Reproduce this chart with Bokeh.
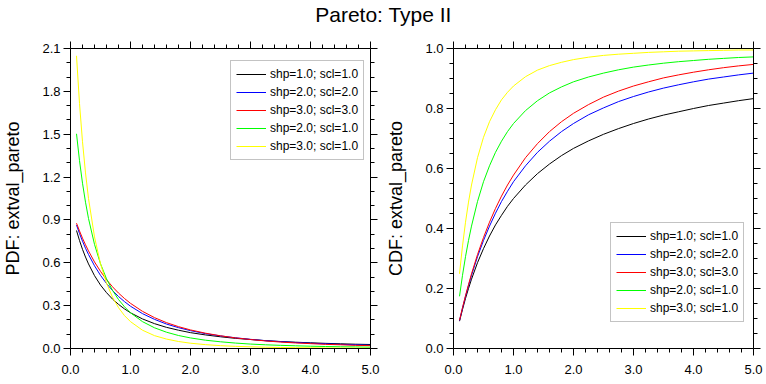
from bokeh.plotting import figure
from bokeh.models import (Range1d, LinearAxis, FixedTicker, Legend, LegendItem,
                          NumeralTickFormatter, CustomLabelingPolicy)
from bokeh.layouts import column, row
from bokeh.embed import file_html
from bokeh.resources import INLINE

FONT = "Liberation Sans"

# ---------------- data ----------------
x = [0.1, 0.15, 0.2, 0.25, 0.3, 0.4, 0.5, 0.6, 0.7, 0.8, 0.9, 1.0, 1.2, 1.4, 1.6,
     1.8, 2.0, 2.25, 2.5, 2.75, 3.0, 3.25, 3.5, 3.75, 4.0, 4.25, 4.5, 4.75, 5.0]

labels = ["shp=1.0; scl=1.0", "shp=2.0; scl=2.0", "shp=3.0; scl=3.0",
          "shp=2.0; scl=1.0", "shp=3.0; scl=1.0"]
colors = ["black", "blue", "red", "#00ff00", "#ffff00"]

pdf_s1_c1 = [0.826, 0.756, 0.694, 0.640, 0.592, 0.510, 0.444, 0.391, 0.346, 0.309,
             0.277, 0.250, 0.207, 0.174, 0.148, 0.128, 0.111, 0.095, 0.082, 0.071,
             0.063, 0.055, 0.049, 0.044, 0.040, 0.036, 0.033, 0.030, 0.028]
pdf_s2_c2 = [0.864, 0.805, 0.751, 0.702, 0.658, 0.579, 0.512, 0.455, 0.406, 0.364,
             0.328, 0.296, 0.244, 0.204, 0.171, 0.146, 0.125, 0.104, 0.088, 0.075,
             0.064, 0.055, 0.048, 0.042, 0.037, 0.033, 0.029, 0.026, 0.023]
pdf_s3_c3 = [0.877, 0.823, 0.772, 0.726, 0.683, 0.606, 0.540, 0.482, 0.432, 0.388,
             0.350, 0.316, 0.260, 0.216, 0.181, 0.153, 0.130, 0.107, 0.089, 0.074,
             0.063, 0.053, 0.045, 0.039, 0.034, 0.029, 0.026, 0.022, 0.020]
pdf_s2_c1 = [1.503, 1.315, 1.157, 1.024, 0.910, 0.729, 0.593, 0.488, 0.407, 0.343,
             0.292, 0.250, 0.188, 0.145, 0.114, 0.091, 0.074, 0.058, 0.047, 0.038,
             0.031, 0.026, 0.022, 0.019, 0.016, 0.014, 0.012, 0.011, 0.009]
pdf_s3_c1 = [2.049, 1.715, 1.447, 1.229, 1.050, 0.781, 0.593, 0.458, 0.359, 0.286,
             0.230, 0.188, 0.128, 0.090, 0.066, 0.049, 0.037, 0.027, 0.020, 0.015,
             0.012, 0.009, 0.007, 0.006, 0.005, 0.004, 0.003, 0.003, 0.002]

cdf_s1_c1 = [0.091, 0.130, 0.167, 0.200, 0.231, 0.286, 0.333, 0.375, 0.412, 0.444,
             0.474, 0.500, 0.545, 0.583, 0.615, 0.643, 0.667, 0.692, 0.714, 0.733,
             0.750, 0.765, 0.778, 0.789, 0.800, 0.810, 0.818, 0.826, 0.833]
cdf_s2_c2 = [0.093, 0.135, 0.174, 0.210, 0.244, 0.306, 0.360, 0.408, 0.451, 0.490,
             0.524, 0.556, 0.609, 0.654, 0.691, 0.723, 0.750, 0.779, 0.802, 0.823,
             0.840, 0.855, 0.868, 0.879, 0.889, 0.898, 0.905, 0.912, 0.918]
cdf_s3_c3 = [0.094, 0.136, 0.176, 0.213, 0.249, 0.313, 0.370, 0.421, 0.467, 0.508,
             0.545, 0.578, 0.636, 0.683, 0.723, 0.756, 0.784, 0.813, 0.838, 0.858,
             0.875, 0.889, 0.902, 0.912, 0.921, 0.929, 0.936, 0.942, 0.947]
cdf_s2_c1 = [0.174, 0.244, 0.306, 0.360, 0.408, 0.490, 0.556, 0.609, 0.654, 0.691,
             0.723, 0.750, 0.793, 0.826, 0.852, 0.872, 0.889, 0.905, 0.918, 0.929,
             0.938, 0.945, 0.951, 0.956, 0.960, 0.964, 0.967, 0.970, 0.972]
cdf_s3_c1 = [0.249, 0.342, 0.421, 0.488, 0.545, 0.636, 0.704, 0.756, 0.796, 0.829,
             0.854, 0.875, 0.906, 0.928, 0.943, 0.954, 0.963, 0.971, 0.977, 0.981,
             0.984, 0.987, 0.989, 0.991, 0.992, 0.993, 0.994, 0.995, 0.995]

x_major = [0, 1, 2, 3, 4, 5]
x_minor = [0.2, 0.4, 0.6, 0.8, 1.2, 1.4, 1.6, 1.8, 2.2, 2.4, 2.6, 2.8,
           3.2, 3.4, 3.6, 3.8, 4.2, 4.4, 4.6, 4.8]
pdf_major = [0, 0.3, 0.6, 0.9, 1.2, 1.5, 1.8, 2.1]
pdf_minor = [0.1, 0.2, 0.4, 0.5, 0.7, 0.8, 1.0, 1.1, 1.3, 1.4, 1.6, 1.7, 1.9, 2.0]
cdf_major = [0, 0.2, 0.4, 0.6, 0.8, 1.0]
cdf_minor = [0.05, 0.1, 0.15, 0.25, 0.3, 0.35, 0.45, 0.5, 0.55, 0.65, 0.7, 0.75,
             0.85, 0.9, 0.95]

pdf_series = [pdf_s1_c1, pdf_s2_c2, pdf_s3_c3, pdf_s2_c1, pdf_s3_c1]
cdf_series = [cdf_s1_c1, cdf_s2_c2, cdf_s3_c3, cdf_s2_c1, cdf_s3_c1]


def make_panel(series, ymax, ymaj, ymin, ylabel, leg_loc, bl, br):
    p = figure(frame_width=300, frame_height=300,
               x_range=Range1d(0, 5), y_range=Range1d(0, ymax),
               toolbar_location=None, output_backend="svg",
               x_axis_location=None, y_axis_location=None,
               min_border_left=bl, min_border_right=br,
               min_border_top=13, min_border_bottom=35)
    p.outline_line_color = None
    p.grid.visible = False

    for side in ["below", "above", "left", "right"]:
        if side in ("below", "above"):
            ax = LinearAxis(ticker=FixedTicker(ticks=x_major, minor_ticks=x_minor))
        else:
            ax = LinearAxis(ticker=FixedTicker(ticks=ymaj, minor_ticks=ymin))
        ax.formatter = NumeralTickFormatter(format="0.0")
        ax.axis_line_color = "black"
        ax.axis_line_width = 1
        ax.major_tick_line_color = "black"
        ax.minor_tick_line_color = "black"
        ax.major_tick_out = 7
        ax.major_tick_in = 0
        ax.minor_tick_out = 4
        ax.minor_tick_in = 0
        ax.major_label_text_font = FONT
        ax.major_label_text_font_size = "13px"
        ax.major_label_text_color = "black"
        if side in ("above", "right"):
            # mirrored axes: tick marks only, no labels
            ax.major_label_policy = CustomLabelingPolicy(code="return []")
            ax.major_label_text_font_size = "1px"
            ax.major_label_standoff = 0
        elif side == "below":
            ax.major_label_standoff = 9
        else:
            ax.major_label_standoff = 3
            ax.axis_label = ylabel
            ax.axis_label_text_font = FONT
            ax.axis_label_text_font_size = "18px"
            ax.axis_label_text_font_style = "normal"
            ax.axis_label_text_color = "black"
            ax.axis_label_standoff = 16
        p.add_layout(ax, side)

    rs = []
    for ys, c in zip(series, colors):
        rs.append(p.line(x, ys, line_color=c, line_width=1))

    items = [LegendItem(label=lab, renderers=[r]) for lab, r in zip(labels, rs)]
    leg = Legend(items=items, location=leg_loc,
                 label_text_font=FONT, label_text_font_size="12px",
                 label_text_color="black",
                 glyph_width=30, glyph_height=16, label_height=16,
                 label_standoff=4, spacing=2, padding=5, margin=0,
                 border_line_color="#888888", border_line_width=1,
                 background_fill_color="white", background_fill_alpha=1)
    p.add_layout(leg)
    return p


p1 = make_panel(pdf_series, 2.1, pdf_major, pdf_minor, "PDF: extval_pareto",
                (160, 188), 70, 13)
p2 = make_panel(cdf_series, 1.0, cdf_major, cdf_minor, "CDF: extval_pareto",
                (157, 26), 66, 17)

pt = figure(width=766, height=35, toolbar_location=None, output_backend="svg",
            x_axis_location=None, y_axis_location=None, min_border=0)
pt.outline_line_color = None
pt.grid.visible = False
pt.title.text = "Pareto: Type II"
pt.title.align = "center"
pt.title.text_font = FONT
pt.title.text_font_size = "21px"
pt.title.text_font_style = "normal"
pt.title.text_color = "black"
pt.title.standoff = 0

layout = column(pt, row(p1, p2))

open("out.html", "w").write(file_html(layout, INLINE))
